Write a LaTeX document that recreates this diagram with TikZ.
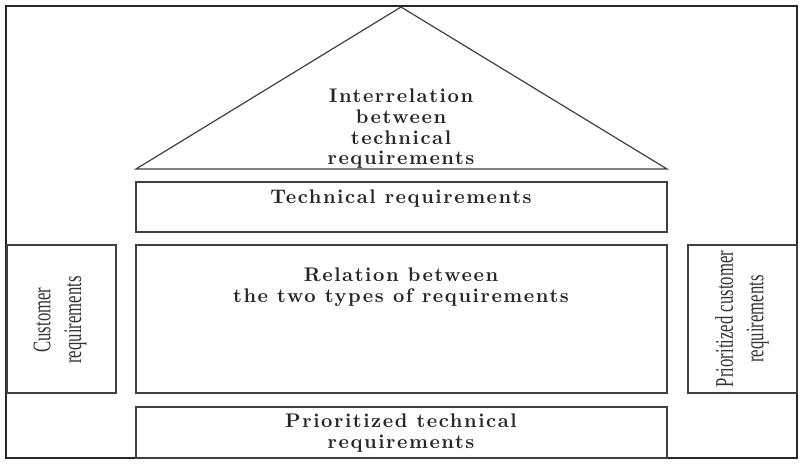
\documentclass[tikz,border=0pt]{standalone}
\usepackage{fontspec}
\newfontfamily\timesfont{Liberation Serif}
\newfontfamily\housefont{lmroman10-bold}[Extension=.otf, LetterSpace=8]
\usetikzlibrary{positioning}

\begin{document}
\begin{tikzpicture}[x=0.75pt, y=-0.75pt,
  part/.style={draw=black!75, line width=0.9pt},
  boldtext/.style={font=\housefont\fontsize{14.8}{15.5}\selectfont, align=center, text=black!85},
  sidetext/.style={font=\timesfont\fontsize{19}{23}\selectfont, align=center, rotate=90, xscale=0.66, text=black!80}]
\useasboundingbox (0,0) rectangle (806,464);
% frame
\draw[line width=1.6pt, black!85] (6,6) rectangle (797,458);
% roof
\coordinate (apex) at (401,7);
\coordinate (roofl) at (136,169);
\coordinate (roofr) at (667,169);
\draw[part] (roofl) -- (apex) -- (roofr) -- cycle;
\node[boldtext] (inter) at (401,129) {Interrelation\\between\\technical\\requirements};
% boxes
\draw[part] (136,182) rectangle (667,232);
\node[boldtext] (tech) at (401,199) {Technical requirements};
\draw[part] (136,245) rectangle (667,393);
\node[boldtext] (rel) at (401,287) {Relation between\\the two types of requirements};
\draw[part] (7,245) rectangle (116,393);
\node[sidetext] (cust) at (60,320) {Customer\\requirements};
\draw[part] (688,245) rectangle (797,393);
\node[sidetext] (pcust) at (742,319) {Prioritized customer\\requirements};
\draw[part] (136,407) rectangle (667,458);
\node[boldtext] (ptech) at (401,433) {Prioritized technical\\requirements};
\end{tikzpicture}
\end{document}
